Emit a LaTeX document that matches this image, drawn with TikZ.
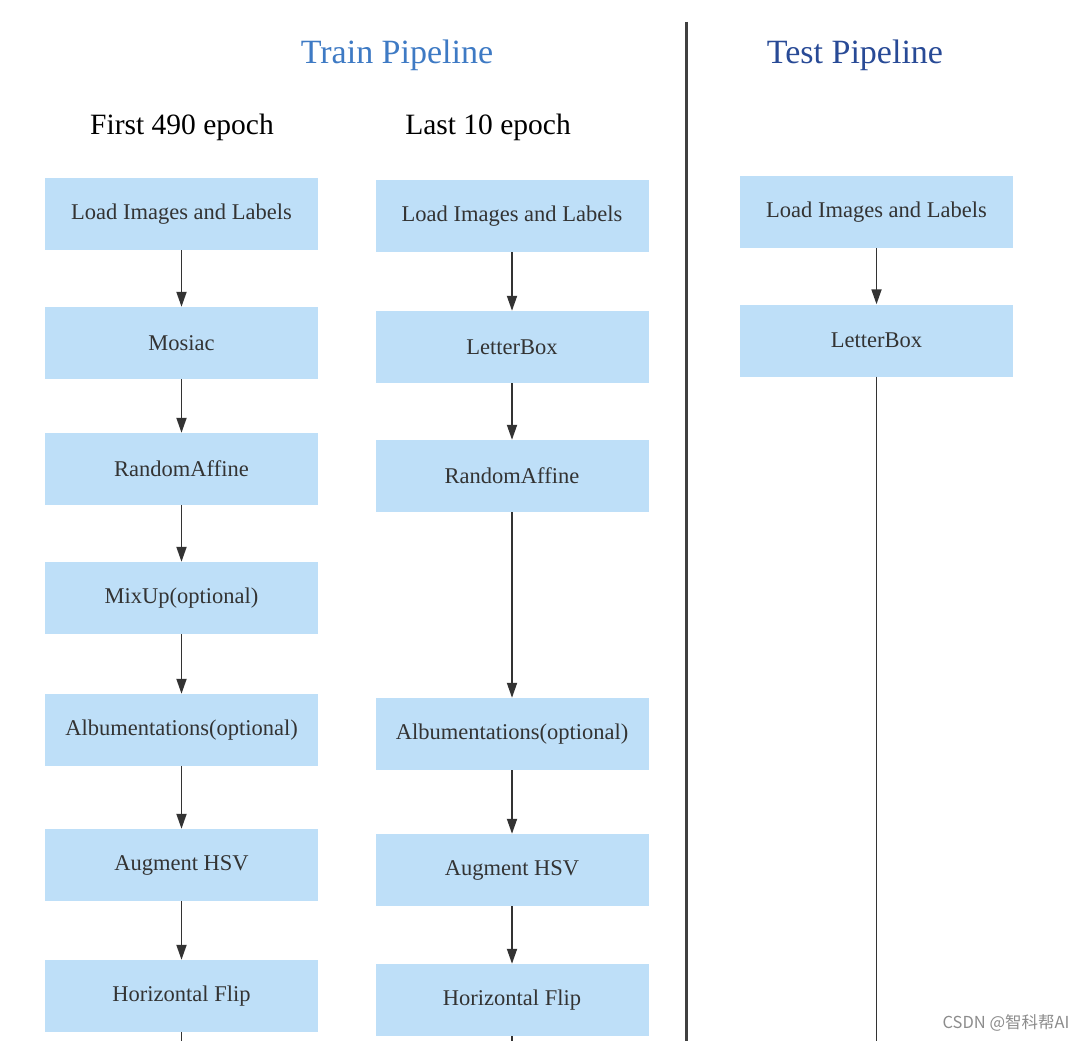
\documentclass[tikz,border=0pt]{standalone}
\usepackage{fontspec}
\setmainfont{Liberation Serif}
\newfontfamily\cjk{Noto Sans CJK SC}
\usetikzlibrary{arrows, arrows.meta}
\usetikzlibrary{calc}

\definecolor{boxblue}{RGB}{190,223,248}
\definecolor{txtgray}{RGB}{51,51,51}
\definecolor{trainblue}{RGB}{62,122,196}
\definecolor{testblue}{RGB}{40,74,150}

\tikzset{
  stage/.style={rectangle, fill=boxblue, text=txtgray, minimum width=273pt, minimum height=72pt,
    inner sep=0pt, font=\fontsize{22.5}{26}\selectfont},
  flow/.style={draw=txtgray, line width=1.8pt, -{Triangle[length=15pt,width=10pt]}},
  tail/.style={draw=txtgray, line width=1.6pt},
  heading/.style={font=\fontsize{29.5}{34}\selectfont}
}

\begin{document}
\begin{tikzpicture}[x=1pt, y=-1pt]
    \useasboundingbox (0,0) rectangle (1086,1041);

    % titles
    \node[font=\fontsize{34}{40}\selectfont, text=trainblue] (train) at (397,55) {Train Pipeline};
    \node[font=\fontsize{34}{40}\selectfont, text=testblue] (test) at (855,55) {Test Pipeline};
    \node[heading] (first) at (182,127) {First 490 epoch};
    \node[heading] (last) at (488,127) {Last 10 epoch};

    % divider
    \draw[line width=3pt, draw=black!75] (686,22) -- (686,1041);

    % first 490 epoch
    \node[stage] (a1) at (181.5,214) {Load Images and Labels};
    \node[stage] (a2) at (181.5,343) {Mosiac};
    \node[stage] (a3) at (181.5,469) {RandomAffine};
    \node[stage] (a4) at (181.5,598) {MixUp(optional)};
    \node[stage] (a5) at (181.5,730) {Albumentations(optional)};
    \node[stage] (a6) at (181.5,865) {Augment HSV};
    \node[stage] (a7) at (181.5,996) {Horizontal Flip};
    \coordinate (aend) at (181.5,1041);

    % last 10 epoch
    \node[stage] (b1) at (512,216) {Load Images and Labels};
    \node[stage] (b2) at (512,347) {LetterBox};
    \node[stage] (b3) at (512,476) {RandomAffine};
    \node[stage] (b4) at (512,734) {Albumentations(optional)};
    \node[stage] (b5) at (512,870) {Augment HSV};
    \node[stage] (b6) at (512,1000) {Horizontal Flip};
    \coordinate (bend) at (512,1041);

    % test
    \node[stage] (c1) at (876.5,212) {Load Images and Labels};
    \node[stage] (c2) at (876.5,340.5) {LetterBox};
    \coordinate (cend) at (876.5,1041);

    \foreach \i/\j in {1/2, 2/3, 3/4, 4/5, 5/6, 6/7}
        \draw[flow] (a\i) -- (a\j);
    \foreach \i/\j in {1/2, 2/3, 3/4, 4/5, 5/6}
        \draw[flow] (b\i) -- (b\j);
    \draw[flow] (c1) -- (c2);
    \draw[tail] (a7) -- (aend);
    \draw[tail] (b6) -- (bend);
    \draw[tail] (c2) -- (cend);

    \node[anchor=east, text=black!45, font=\cjk\fontsize{16.5}{19}\selectfont] (mark) at (1073,1023) {CSDN @智科帮AI};
\end{tikzpicture}
\end{document}
